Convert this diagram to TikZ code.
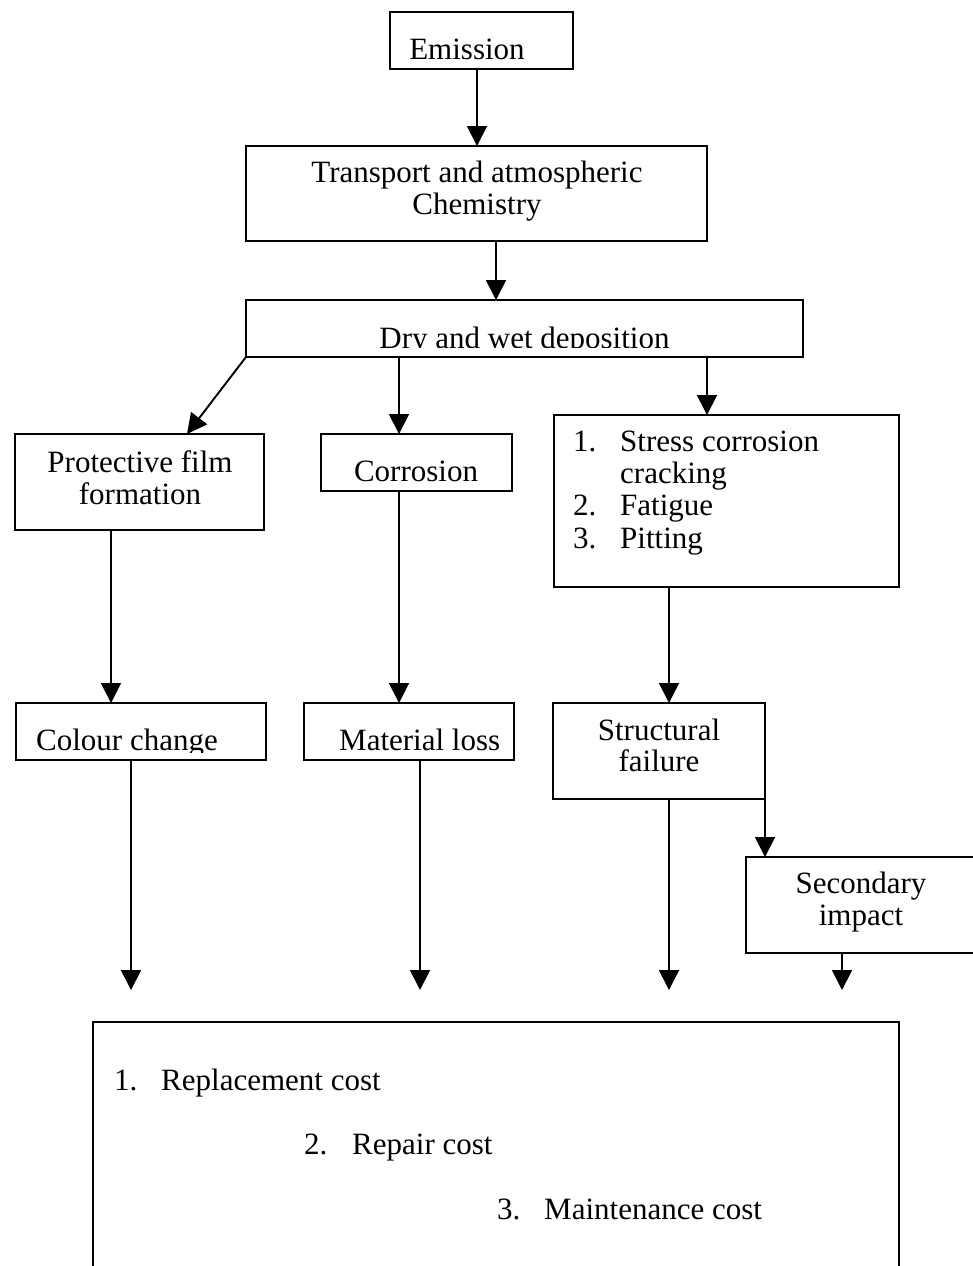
\documentclass[tikz,border=0pt]{standalone}
\usepackage{fontspec}
\setmainfont{Liberation Serif}
\usetikzlibrary{arrows.meta}
\begin{document}
\begin{tikzpicture}[x=1pt,y=-1pt,
  box/.style={draw, line width=1.9pt, rectangle, inner sep=0pt, outer sep=0pt, anchor=north west},
  lbl/.style={inner sep=0pt, font=\fontsize{31}{32}\selectfont},
  arr/.style={line width=1.9pt, -{Triangle[width=20pt,length=20pt]}},
  link/.style={line width=1.9pt}]
\useasboundingbox (0,0) rectangle (973,1266);

% boxes
\node[box, minimum width=183pt, minimum height=57pt]  (emission)   at (390,12)  {};
\node[box, minimum width=461pt, minimum height=95pt]  (transport)  at (246,146) {};
\node[box, minimum width=557pt, minimum height=57pt]  (dry)        at (246,300) {};
\node[box, minimum width=249pt, minimum height=96pt]  (protect)    at (15,434)  {};
\node[box, minimum width=191pt, minimum height=57pt]  (corrosion)  at (321,434) {};
\node[box, minimum width=345pt, minimum height=172pt] (mechanisms) at (554,415) {};
\node[box, minimum width=250pt, minimum height=57pt]  (colour)     at (16,703)  {};
\node[box, minimum width=210pt, minimum height=57pt]  (material)   at (304,703) {};
\node[box, minimum width=212pt, minimum height=96pt]  (structural) at (553,703) {};
\node[box, minimum width=232pt, minimum height=96pt]  (secondary)  at (746,857) {};
\node[box, minimum width=806pt, minimum height=262pt] (cost)       at (93,1022) {};

% labels
\node[lbl, anchor=base] (emission-t) at (467,59) {Emission};
\node[lbl, anchor=base] (transport-t1) at (477,182) {Transport and atmospheric};
\node[lbl, anchor=base] (transport-t2) at (477,214) {Chemistry};
\begin{scope}
  \clip (dry.north west) rectangle ([yshift=10pt]dry.south east);
  \node[lbl, anchor=base] (dry-t) at (524.5,348) {Dry and wet deposition};
\end{scope}
\node[lbl, anchor=base] (protect-t1) at (140,472) {Protective film};
\node[lbl, anchor=base] (protect-t2) at (140,504) {formation};
\node[lbl, anchor=base] (corrosion-t) at (416,481) {Corrosion};
\node[lbl, anchor=base west] (mech-n1) at (573,451) {1.};
\node[lbl, anchor=base west] (mech-t1) at (620,451) {Stress corrosion};
\node[lbl, anchor=base west] (mech-t1b) at (620,483) {cracking};
\node[lbl, anchor=base west] (mech-n2) at (573,515.5) {2.};
\node[lbl, anchor=base west] (mech-t2) at (620,515.5) {Fatigue};
\node[lbl, anchor=base west] (mech-n3) at (573,548) {3.};
\node[lbl, anchor=base west] (mech-t3) at (620,548) {Pitting};
\begin{scope}
  \clip (colour.north west) rectangle ([yshift=8pt]colour.south east);
  \node[lbl, anchor=base west] (colour-t) at (36,750) {Colour change};
\end{scope}
\node[lbl, anchor=base west] (material-t) at (339,750) {Material loss};
\node[lbl, anchor=base] (structural-t1) at (659,740) {Structural};
\node[lbl, anchor=base] (structural-t2) at (659,771) {failure};
\node[lbl, anchor=base] (secondary-t1) at (861,893) {Secondary};
\node[lbl, anchor=base] (secondary-t2) at (861,925) {impact};
\node[lbl, anchor=base west] (cost-n1) at (114,1090) {1.};
\node[lbl, anchor=base west] (cost-t1) at (161,1090) {Replacement cost};
\node[lbl, anchor=base west] (cost-n2) at (304,1154.5) {2.};
\node[lbl, anchor=base west] (cost-t2) at (352,1154.5) {Repair cost};
\node[lbl, anchor=base west] (cost-n3) at (497,1219) {3.};
\node[lbl, anchor=base west] (cost-t3) at (544,1219) {Maintenance cost};

% connector columns
\coordinate (c-em) at (477,0);
\coordinate (c-tr) at (496,0);
\coordinate (c-co) at (399,0);
\coordinate (c-li) at (707,0);
\coordinate (c-pf) at (187,0);
\coordinate (c-pr) at (111,0);
\coordinate (c-cl) at (131,0);
\coordinate (c-ma) at (420,0);
\coordinate (c-st) at (669,0);
\coordinate (c-se) at (842,0);
% free ends above the cost box
\coordinate (e-cl) at (131,990);
\coordinate (e-ma) at (420,990);
\coordinate (e-st) at (669,990);
\coordinate (e-se) at (842,990);

% connectors
\draw[arr] (emission.south -| c-em) -- (transport.north -| c-em);
\draw[arr] (transport.south -| c-tr) -- (dry.north -| c-tr);
\draw[arr] (dry.south west) -- (protect.north -| c-pf);
\draw[arr] (dry.south -| c-co) -- (corrosion.north -| c-co);
\draw[arr] (dry.south -| c-li) -- (mechanisms.north -| c-li);
\draw[arr] (protect.south -| c-pr) -- (colour.north -| c-pr);
\draw[arr] (corrosion.south -| c-co) -- (material.north -| c-co);
\draw[arr] (mechanisms.south -| c-st) -- (structural.north -| c-st);
\draw[arr] (colour.south -| c-cl) -- (e-cl);
\draw[arr] (material.south -| c-ma) -- (e-ma);
\draw[arr] (structural.south -| c-st) -- (e-st);
\draw[arr] (structural.south east) -- (secondary.north -| structural.south east);
\draw[arr] (secondary.south -| c-se) -- (e-se);
\end{tikzpicture}
\end{document}
